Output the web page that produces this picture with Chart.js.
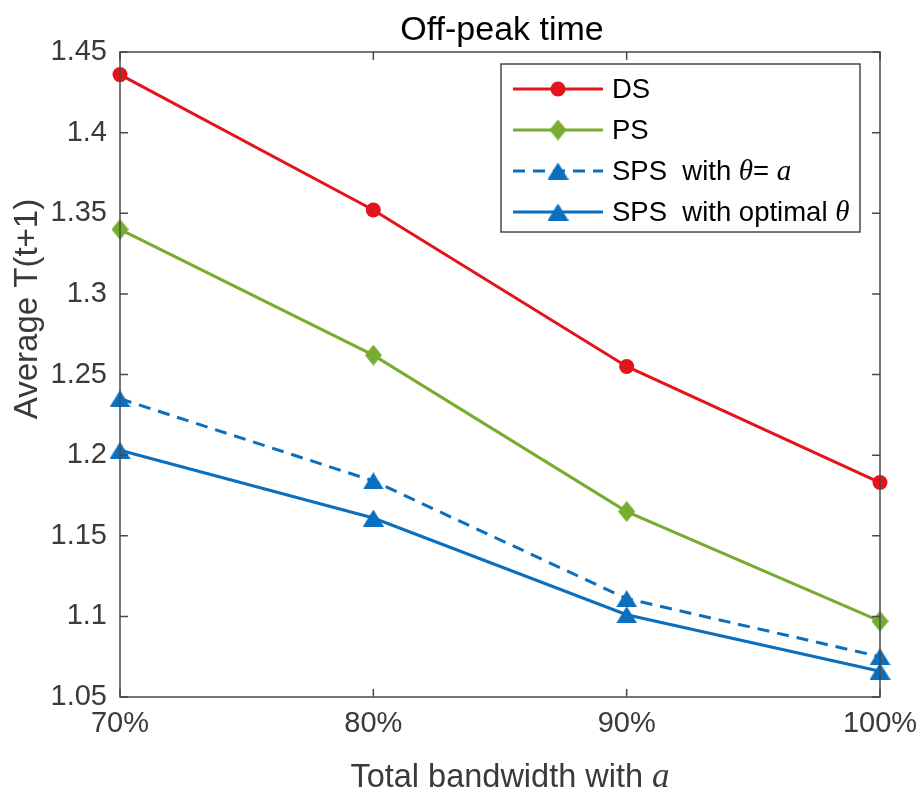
<!DOCTYPE html>
<html>
<head>
<meta charset="utf-8">
<script src="https://cdn.jsdelivr.net/npm/chart.js@4.4.0/dist/chart.umd.min.js"></script>
<style>
  body { margin: 0; background: #fff; }
  #wrap { width: 922px; height: 791px; }
</style>
</head>
<body>
<div id="wrap"><canvas id="chart"></canvas></div>
<script>
  // data
  const bandwidth = [70, 80, 90, 100];
  const dsValues = [1.436, 1.352, 1.255, 1.183];
  const psValues = [1.340, 1.262, 1.165, 1.097];
  const spsFixedValues = [1.235, 1.184, 1.111, 1.075];
  const spsOptimalValues = [1.203, 1.161, 1.101, 1.066];
  const yTicks = [1.05, 1.1, 1.15, 1.2, 1.25, 1.3, 1.35, 1.4, 1.45];

  const RED = "#e3141c";
  const GREEN = "#77ac30";
  const BLUE = "#0b6fbd";
  const TEXT = "#3a3a3a";
  const AXIS = "#4a4a4a";
  const FONT = "'Liberation Sans', Arial, sans-serif";
  const MATH = "'Liberation Serif', 'Times New Roman', serif";

  // custom markers (MATLAB style diamond and triangle)
  function makeMarker(w, h, color, shape) {
    const c = document.createElement("canvas");
    c.width = w;
    c.height = h;
    const g = c.getContext("2d");
    g.fillStyle = color;
    g.beginPath();
    if (shape === "diamond") {
      g.moveTo(w / 2, 0);
      g.lineTo(w, h / 2);
      g.lineTo(w / 2, h);
      g.lineTo(0, h / 2);
    } else {
      g.moveTo(w / 2, 0);
      g.lineTo(w, h);
      g.lineTo(0, h);
    }
    g.closePath();
    g.fill();
    return c;
  }
  const diamond = makeMarker(17, 21, GREEN, "diamond");
  const triangle = makeMarker(21, 17, BLUE, "triangle");

  function toPoints(values) {
    return bandwidth.map((x, i) => ({ x: x, y: values[i] }));
  }

  const series = [
    { label: "DS", data: dsValues, color: RED, style: "circle", radius: 7.5, dash: [] },
    { label: "PS", data: psValues, color: GREEN, style: diamond, radius: 9, dash: [] },
    { label: "SPS fixed", data: spsFixedValues, color: BLUE, style: triangle, radius: 9, dash: [12, 8] },
    { label: "SPS optimal", data: spsOptimalValues, color: BLUE, style: triangle, radius: 9, dash: [] },
  ];

  // Function to draw box, inward ticks, titles and legend
  const decorations = {
    id: "decorations",
    afterDraw(chart) {
      const ctx = chart.ctx;
      const a = chart.chartArea;
      const xs = chart.scales.x;
      const ys = chart.scales.y;
      ctx.save();

      // box
      ctx.strokeStyle = AXIS;
      ctx.lineWidth = 1.5;
      ctx.setLineDash([]);
      ctx.strokeRect(a.left, a.top, a.right - a.left, a.bottom - a.top);

      // inward ticks
      const tl = 8;
      ctx.beginPath();
      xs.ticks.forEach(t => {
        const px = xs.getPixelForValue(t.value);
        ctx.moveTo(px, a.bottom); ctx.lineTo(px, a.bottom - tl);
        ctx.moveTo(px, a.top); ctx.lineTo(px, a.top + tl);
      });
      ys.ticks.forEach(t => {
        const py = ys.getPixelForValue(t.value);
        ctx.moveTo(a.left, py); ctx.lineTo(a.left + tl, py);
        ctx.moveTo(a.right, py); ctx.lineTo(a.right - tl, py);
      });
      ctx.stroke();

      // title
      ctx.fillStyle = "#000";
      ctx.font = "34px " + FONT;
      ctx.textAlign = "center";
      ctx.textBaseline = "alphabetic";
      ctx.fillText("Off-peak time", 502, 40);

      // x title with italic a
      ctx.fillStyle = TEXT;
      const xt = "Total bandwidth with ";
      ctx.font = "32.5px " + FONT;
      const w1 = ctx.measureText(xt).width;
      ctx.font = "italic 35px " + MATH;
      const w2 = ctx.measureText("a").width;
      const sx = 510 - (w1 + w2) / 2;
      ctx.textAlign = "left";
      ctx.font = "32.5px " + FONT;
      ctx.fillText(xt, sx, 787);
      ctx.font = "italic 35px " + MATH;
      ctx.fillText("a", sx + w1, 787);

      // y title
      ctx.save();
      ctx.translate(37, 309);
      ctx.rotate(-Math.PI / 2);
      ctx.textAlign = "center";
      ctx.font = "33px " + FONT;
      ctx.fillText("Average T(t+1)", 0, 0);
      ctx.restore();

      // legend
      const lx = 501, ly = 64, lw = 359, lh = 168;
      ctx.fillStyle = "#fff";
      ctx.fillRect(lx, ly, lw, lh);
      ctx.strokeStyle = AXIS;
      ctx.lineWidth = 1.5;
      ctx.strokeRect(lx, ly, lw, lh);
      const rows = [89, 130, 171, 212];
      const labels = [
        [["DS", FONT, ""]],
        [["PS", FONT, ""]],
        [["SPS  with ", FONT, ""], ["\u03b8", MATH, "italic "], ["= ", FONT, ""], ["a", MATH, "italic "]],
        [["SPS  with optimal ", FONT, ""], ["\u03b8", MATH, "italic "]],
      ];
      series.forEach((s, i) => {
        const y = rows[i];
        ctx.strokeStyle = s.color;
        ctx.lineWidth = 3;
        ctx.setLineDash(s.dash);
        ctx.beginPath();
        ctx.moveTo(513, y);
        ctx.lineTo(603, y);
        ctx.stroke();
        ctx.setLineDash([]);
        if (s.style === "circle") {
          ctx.fillStyle = s.color;
          ctx.beginPath();
          ctx.arc(558, y, s.radius, 0, Math.PI * 2);
          ctx.fill();
        } else {
          ctx.drawImage(s.style, 558 - s.style.width / 2, y - s.style.height / 2);
        }
        ctx.fillStyle = "#000";
        ctx.textAlign = "left";
        ctx.textBaseline = "middle";
        let tx = 612;
        labels[i].forEach(seg => {
          ctx.font = seg[2] + (seg[1] === MATH ? "29px " : "27.5px ") + seg[1];
          ctx.fillText(seg[0], tx, y + 1);
          tx += ctx.measureText(seg[0]).width;
        });
      });
      ctx.restore();
    },
  };

  new Chart(document.getElementById("chart").getContext("2d"), {
    type: "line",
    data: {
      datasets: series.map(s => ({
        label: s.label,
        data: toPoints(s.data),
        borderColor: s.color,
        backgroundColor: s.color,
        borderWidth: 3,
        borderDash: s.dash,
        pointStyle: s.style,
        pointRadius: s.radius,
        pointHoverRadius: s.radius,
        pointBorderWidth: 0,
        tension: 0,
        clip: false,
      })),
    },
    options: {
      responsive: true,
      maintainAspectRatio: false,
      animation: false,
      layout: { padding: { top: 52, right: 42, left: 0, bottom: 0 } },
      plugins: { legend: { display: false }, tooltip: { enabled: false } },
      scales: {
        x: {
          type: "linear",
          min: 70,
          max: 100,
          grid: { display: false, drawTicks: false },
          border: { display: false },
          afterBuildTicks: scale => { scale.ticks = bandwidth.map(v => ({ value: v })); },
          afterFit: scale => {
            scale.height = 94;
            scale.paddingLeft = 0;
            scale.paddingRight = 0;
          },
          ticks: {
            padding: 10,
            color: TEXT,
            font: { family: FONT, size: 29 },
            callback: v => v + "%",
            maxRotation: 0,
          },
        },
        y: {
          min: 1.05,
          max: 1.45,
          grid: { display: false, drawTicks: false },
          border: { display: false },
          afterBuildTicks: scale => { scale.ticks = yTicks.map(v => ({ value: v })); },
          afterFit: scale => {
            scale.width = 120;
            scale.paddingTop = 0;
            scale.paddingBottom = 0;
          },
          ticks: {
            padding: 13,
            color: TEXT,
            font: { family: FONT, size: 29 },
            callback: v => String(parseFloat(v.toFixed(2))),
          },
        },
      },
    },
    plugins: [decorations],
  });
</script>
</body>
</html>
